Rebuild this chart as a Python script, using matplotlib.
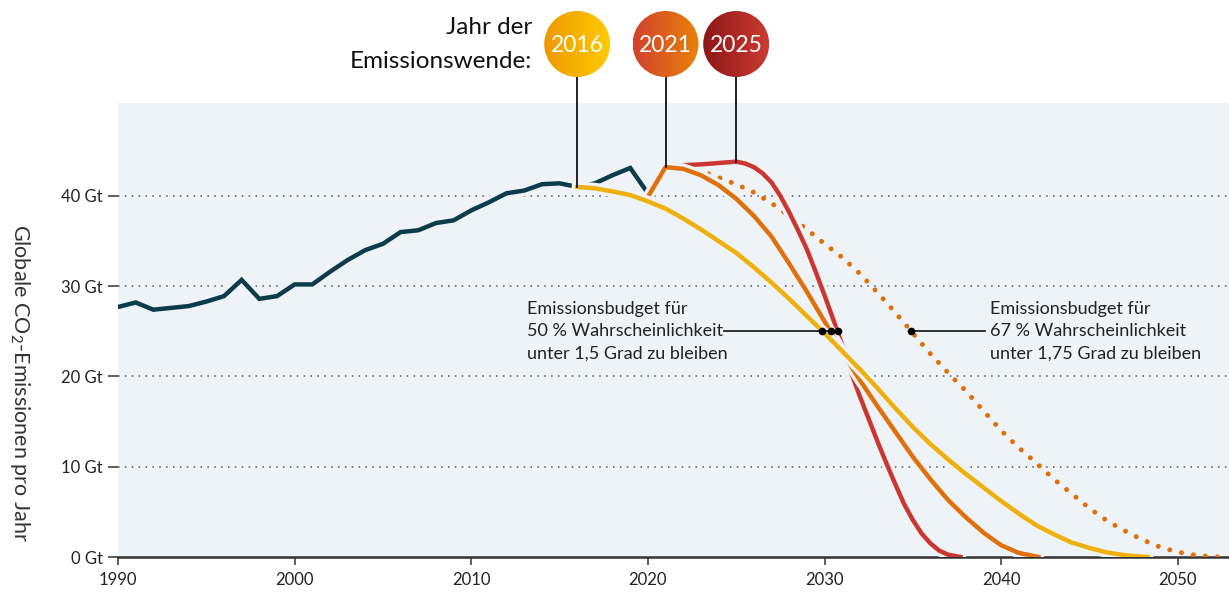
import numpy as np
import matplotlib
matplotlib.use("Agg")
import matplotlib.pyplot as plt
from matplotlib.patches import Circle
from matplotlib.colors import LinearSegmentedColormap
import matplotlib.patheffects as pe

plt.rcParams['font.family'] = ['Lato', 'DejaVu Sans']
plt.rcParams['mathtext.fontset'] = 'custom'
plt.rcParams['mathtext.rm'] = 'Lato'
plt.rcParams['mathtext.it'] = 'Lato'

# ---------------- data ----------------
hist_years = list(range(1990, 2021))
hist_values = [27.7, 28.2, 27.4, 27.6, 27.8, 28.3, 28.9, 30.7, 28.6, 28.9,
               30.2, 30.2, 31.6, 32.9, 34.0, 34.7, 36.0, 36.2, 37.0, 37.3,
               38.4, 39.3, 40.3, 40.6, 41.3, 41.4, 41.0, 41.4, 42.3, 43.1, 40.3]

y2016_years = [2016, 2017, 2018, 2019, 2020, 2021, 2022, 2023, 2024, 2025, 2026,
               2027, 2028, 2029, 2030, 2031, 2032, 2033, 2034, 2035, 2036, 2037,
               2038, 2039, 2040, 2041, 2042, 2043, 2044, 2045, 2046, 2047, 2048, 2048.3]
y2016_values = [41.0, 40.85, 40.5, 40.1, 39.4, 38.6, 37.5, 36.3, 35.0, 33.7, 32.1,
                30.4, 28.6, 26.7, 24.8, 22.8, 20.8, 18.7, 16.5, 14.4, 12.5, 10.8,
                9.2, 7.7, 6.2, 4.8, 3.5, 2.5, 1.6, 1.0, 0.5, 0.2, 0.03, 0.0]

y2021_years = [2020, 2021, 2022, 2023, 2024, 2025, 2026, 2027, 2028, 2029, 2030,
               2031, 2032, 2033, 2034, 2035, 2036, 2037, 2038, 2039, 2040, 2041,
               2042, 2042.1]
y2021_values = [39.9, 43.2, 43.0, 42.3, 41.2, 39.7, 37.8, 35.5, 32.5, 29.4, 26.1,
                22.7, 19.6, 16.7, 13.9, 11.1, 8.6, 6.3, 4.4, 2.7, 1.3, 0.45,
                0.05, 0.0]

y2025_years = [2021.9, 2023, 2024, 2025, 2025.5, 2026, 2026.5, 2027, 2027.5, 2028,
               2028.5, 2029, 2029.5, 2030, 2030.5, 2031, 2031.5, 2032, 2032.5,
               2033, 2033.5, 2034, 2034.5, 2035, 2035.5, 2036, 2036.5, 2037, 2037.7]
y2025_values = [43.4, 43.5, 43.65, 43.8, 43.6, 43.2, 42.5, 41.5, 40.0, 38.2,
                36.2, 34.1, 31.6, 29.0, 26.3, 23.5, 20.5, 17.8, 15.3,
                12.8, 10.4, 8.1, 5.9, 4.1, 2.6, 1.5, 0.7, 0.25, 0.0]

p67_years = [2022.8, 2024, 2025, 2026, 2027, 2028, 2029, 2030, 2031, 2032, 2033,
             2034, 2035, 2036, 2037, 2038, 2039, 2040, 2041, 2042, 2043, 2044,
             2045, 2046, 2047, 2048, 2049, 2050, 2051, 2052, 2052.5]
p67_values = [42.9, 42.05, 41.3, 40.4, 39.2, 37.8, 36.3, 34.7, 33.2, 31.4, 29.3,
              27.1, 24.8, 22.5, 20.4, 18.4, 16.2, 14.0, 12.1, 10.4, 8.6, 7.0,
              5.4, 4.0, 2.9, 1.9, 1.1, 0.55, 0.2, 0.03, 0.0]

budget50_years = [2029.85, 2030.35, 2030.75]
budget50_values = [25.0, 25.0, 25.0]
budget67_year = 2034.9
budget67_value = 25.0

turn_years = [2016, 2021, 2025]
turn_values = [41.0, 43.2, 43.8]
turn_labels = ['2016', '2021', '2025']

y_ticks = [0, 10, 20, 30, 40]
y_ticklabels = ['0 Gt', '10 Gt', '20 Gt', '30 Gt', '40 Gt']
x_ticks = [1990, 2000, 2010, 2020, 2030, 2040, 2050]

# ---------------- styles ----------------
BG = '#eef3f7'
TEAL = '#0c3c4a'
YELLOW = '#f0b00c'
ORANGE = '#e0700a'
RED = '#cc3630'
grad = [('#ef9800', '#ffcb00'), ('#d2412d', '#e8820a'), ('#8c1717', '#cd3a31')]

W, H = 1229, 596
fig = plt.figure(figsize=(W / 100, H / 100), dpi=100)
ax = fig.add_axes([118 / W, 39 / H, (W - 118) / W, (557 - 103) / H])
ax.set_facecolor(BG)
ax.set_xlim(1990, 2052.9)
ax.set_ylim(0, 50.3)

for s in ['left', 'top', 'right']:
    ax.spines[s].set_visible(False)
ax.spines['bottom'].set_color('#333333')
ax.spines['bottom'].set_linewidth(1.8)

ax.set_yticks(y_ticks)
ax.set_yticklabels(y_ticklabels)
ax.set_xticks(x_ticks)
ax.tick_params(axis='y', length=7, width=1.1, color='#333333', labelsize=12,
               labelcolor='#222222', pad=4)
ax.tick_params(axis='x', length=6, width=1.1, color='#333333', labelsize=12,
               labelcolor='#222222', pad=5)

for v in y_ticks[1:]:
    ax.axhline(v, color='#555555', lw=1.1, ls=(0, (1, 3.5)), zorder=1)

outline = [pe.Stroke(linewidth=8, foreground=BG), pe.Normal()]

ax.plot(hist_years, hist_values, color=TEAL, lw=3.2, solid_joinstyle='miter',
        zorder=3, path_effects=outline)
ax.plot(p67_years, p67_values, color=ORANGE, lw=3.6, ls=(0, (0.01, 2.4)),
        dash_capstyle='round', zorder=3)
ax.plot(y2025_years, y2025_values, color=RED, lw=3.2, zorder=4,
        solid_joinstyle='round', path_effects=outline)
ax.plot(y2021_years, y2021_values, color=ORANGE, lw=3.2, zorder=5,
        solid_joinstyle='round', path_effects=outline)
ax.plot(y2016_years, y2016_values, color=YELLOW, lw=3.2, zorder=6,
        solid_joinstyle='round', path_effects=outline)

# budget markers and leader lines
ax.plot([2024.3, budget50_years[-1]], [25.0, 25.0], color='#222222', lw=1.3, zorder=7)
ax.plot(budget50_years, budget50_values, 'o', color='black', ms=4.5, zorder=8)
ax.plot([budget67_year, 2039.07], [budget67_value, budget67_value], color='#222222',
        lw=1.3, zorder=7)
ax.plot([budget67_year], [budget67_value], 'o', color='black', ms=4.5, zorder=8)

ax.text(2013.15, 25.0, 'Emissionsbudget für\n50 % Wahrscheinlichkeit\nunter 1,5 Grad zu bleiben',
        ha='left', va='center', fontsize=13, color='#222222', linespacing=1.5, zorder=9)
ax.text(2039.35, 25.0, 'Emissionsbudget für\n67 % Wahrscheinlichkeit\nunter 1,75 Grad zu bleiben',
        ha='left', va='center', fontsize=13, color='#222222', linespacing=1.5, zorder=9)

fig.text(20 / W, 1 - 383 / H, 'Globale CO$_2$-Emissionen pro Jahr', rotation=-90,
         ha='center', va='center', fontsize=15.5, color='#333333')

# overlay for circles (figure pixel coordinates)
ov = fig.add_axes([0, 0, 1, 1])
ov.set_xlim(0, W)
ov.set_ylim(0, H)
ov.axis('off')
ov.patch.set_alpha(0)

cy = H - 44
r = 33
grad_img = np.linspace(0, 1, 256).reshape(1, -1)
for yr, val, lab, (c1, c2) in zip(turn_years, turn_values, turn_labels, grad):
    px, py = ax.transData.transform((yr, val))
    cx = px
    ov.plot([cx, cx], [cy - r, py], color='#111111', lw=1.3, zorder=2)
    cmap = LinearSegmentedColormap.from_list('g' + lab, [c1, c2])
    im = ov.imshow(grad_img, cmap=cmap, extent=(cx - r, cx + r, cy - r, cy + r),
                   aspect='auto', zorder=3, interpolation='bilinear')
    circ = Circle((cx, cy), r, transform=ov.transData, facecolor='none', edgecolor='none')
    ov.add_patch(circ)
    im.set_clip_path(circ)
    ov.text(cx, cy - 1, lab, ha='center', va='center', fontsize=16.5, color='white', zorder=4)

ov.set_xlim(0, W)
ov.set_ylim(0, H)

ov.text(532, H - 27, 'Jahr der', ha='right', va='center', fontsize=17.5, color='#111111')
ov.text(532, H - 62, 'Emissionswende:', ha='right', va='center', fontsize=17.5, color='#111111')

fig.savefig('out.png', dpi=100)
